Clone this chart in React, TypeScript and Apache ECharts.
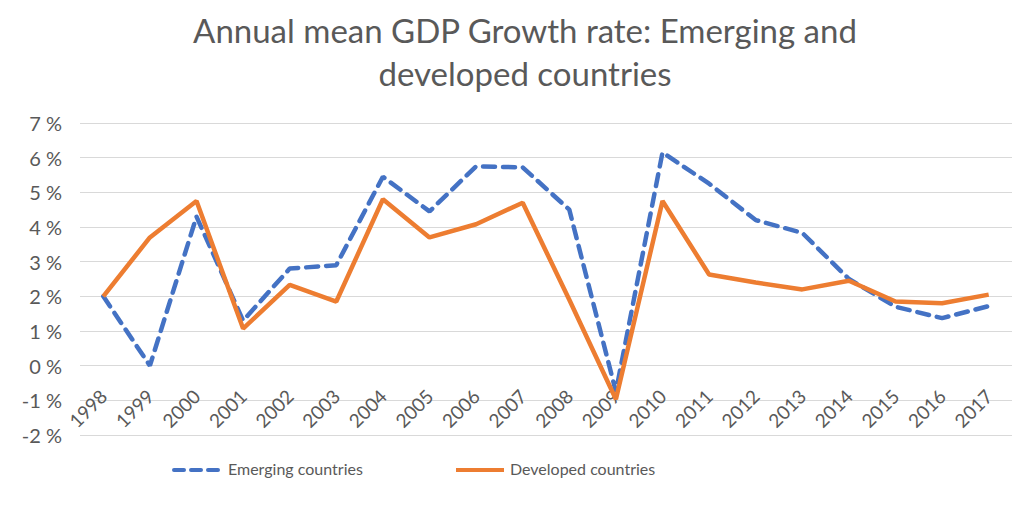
import React, { useEffect, useRef } from "react";
import * as echarts from "echarts";

const years = ["1998","1999","2000","2001","2002","2003","2004","2005","2006","2007","2008","2009","2010","2011","2012","2013","2014","2015","2016","2017"];
const emerging = [2.0, 0.0, 4.3, 1.3, 2.8, 2.9, 5.45, 4.45, 5.75, 5.72, 4.5, -0.75, 6.15, 5.25, 4.2, 3.83, 2.5, 1.7, 1.37, 1.72];
const developed = [2.0, 3.7, 4.75, 1.07, 2.33, 1.85, 4.8, 3.7, 4.08, 4.7, 1.9, -0.97, 4.75, 2.63, 2.4, 2.2, 2.45, 1.85, 1.8, 2.05];
const titleText = "Annual mean GDP Growth rate: Emerging and\ndeveloped countries";
const seriesNames = ["Emerging countries", "Developed countries"];
const yMin = -2;
const yMax = 7;

const FONT = "Lato";
const GREY = "#595959";
const BLUE = "#4472C4";
const ORANGE = "#ED7D31";

const W = 1019;
const H = 513;
const GRID_TOP = 123;
const GRID_BOTTOM = 78;

export default function App() {
  const ref = useRef<HTMLDivElement>(null);
  useEffect(() => {
    if (!ref.current) return;
    const chart = echarts.init(ref.current, null, { renderer: "svg" });
    const plotH = H - GRID_TOP - GRID_BOTTOM;
    const zeroOffset = -plotH * (0 - yMin) / (yMax - yMin);
    chart.setOption({
      animation: false,
      backgroundColor: "#ffffff",
      title: {
        text: titleText,
        left: 520,
        textAlign: "center",
        top: 3,
        textStyle: { fontFamily: FONT, fontSize: 33, fontWeight: "normal", color: GREY, lineHeight: 43 },
      },
      graphic: [
        { type: "line", shape: { x1: 174, y1: 470, x2: 219, y2: 470 }, style: { stroke: BLUE, lineWidth: 4, lineDash: [10, 7], lineCap: "round" } },
        { type: "text", left: 228, top: 460, style: { text: seriesNames[0], font: `16px ${FONT}`, fill: GREY } },
        { type: "line", shape: { x1: 456, y1: 470, x2: 504, y2: 470 }, style: { stroke: ORANGE, lineWidth: 4 } },
        { type: "text", left: 510, top: 460, style: { text: seriesNames[1], font: `16px ${FONT}`, fill: GREY } },
      ],
      grid: { left: 80, right: 7, top: GRID_TOP, bottom: GRID_BOTTOM, containLabel: false },
      xAxis: {
        type: "category",
        data: years,
        boundaryGap: true,
        offset: zeroOffset,
        axisLine: { show: false, onZero: false },
        axisTick: { show: false },
        axisLabel: { rotate: 45, margin: 27, fontFamily: FONT, fontSize: 19, color: GREY },
      },
      yAxis: {
        type: "value",
        min: yMin,
        max: yMax,
        interval: 1,
        axisLine: { show: false },
        axisTick: { show: false },
        axisLabel: { formatter: "{value} %", margin: 18, fontFamily: FONT, fontSize: 20, color: GREY },
        splitLine: { lineStyle: { color: "#d9d9d9", width: 1 } },
      },
      series: [
        {
          name: seriesNames[0],
          type: "line",
          data: emerging,
          symbol: "none",
          lineStyle: { color: BLUE, width: 4.5, type: [12, 8], cap: "round" },
          itemStyle: { color: BLUE },
        },
        {
          name: seriesNames[1],
          type: "line",
          data: developed,
          symbol: "none",
          lineStyle: { color: ORANGE, width: 4.5 },
          itemStyle: { color: ORANGE },
        },
      ],
    });
    return () => chart.dispose();
  }, []);
  return <div ref={ref} style={{ width: W, height: H, position: "absolute", left: 0, top: 0 }} />;
}
